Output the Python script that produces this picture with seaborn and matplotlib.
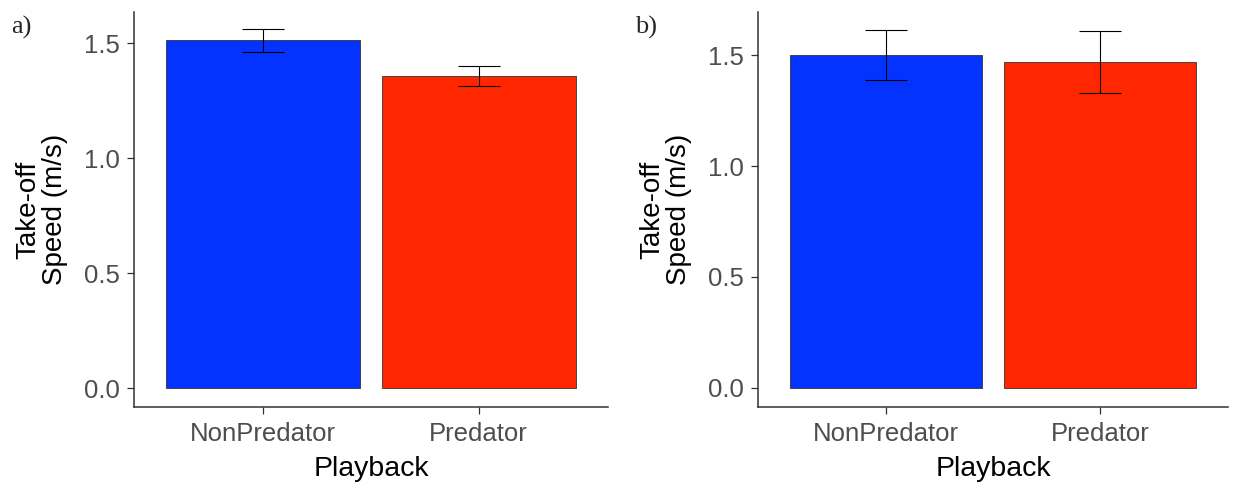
import matplotlib
matplotlib.use("Agg")
import matplotlib.pyplot as plt
import seaborn as sns
import pandas as pd

categories = ["NonPredator", "Predator"]
mean_a = [1.513, 1.357]
se_a = [0.050, 0.042]
mean_b = [1.500, 1.469]
se_b = [0.114, 0.139]
yticks = [0.0, 0.5, 1.0, 1.5]
colors = ["#0433FF", "#FF2600"]

sns.set_theme(style="white")
plt.rcParams["font.family"] = ["Liberation Sans", "DejaVu Sans"]

fig = plt.figure(figsize=(12.35, 4.83), dpi=100)
ax_a = fig.add_axes([134/1235, 76/483, (608-134)/1235, (407-12)/483])
ax_b = fig.add_axes([758/1235, 76/483, (1228-758)/1235, (407-12)/483])

def panel(ax, means, ses, ylim):
    df = pd.DataFrame({"Playback": categories, "Speed": means})
    sns.barplot(data=df, x="Playback", y="Speed", hue="Playback",
                palette=colors, saturation=1, errorbar=None, width=0.9,
                edgecolor="#333333", linewidth=0.6, legend=False, ax=ax)
    ax.errorbar(categories, means, yerr=ses, fmt="none", ecolor="black",
                elinewidth=0.8, capsize=15.4, capthick=0.8)
    ax.set_xlim(-0.6, 1.6)
    ax.set_ylim(*ylim)
    ax.set_yticks(yticks)
    ax.set_yticklabels([f"{t:.1f}" for t in yticks])
    ax.set_xlabel("Playback", fontsize=20.5, color="black", labelpad=7)
    ax.set_ylabel("Take-off\nSpeed (m/s)", fontsize=20, color="black",
                  labelpad=12, linespacing=1.0)
    ax.tick_params(axis="y", labelsize=18.5, labelcolor="#4D4D4D",
                   color="#333333", length=5, width=0.9, left=True, pad=5)
    ax.tick_params(axis="x", labelsize=18.5, labelcolor="#4D4D4D",
                   color="#333333", length=5, width=0.9, bottom=True, pad=6)
    for s in ["top", "right"]:
        ax.spines[s].set_visible(False)
    for s in ["left", "bottom"]:
        ax.spines[s].set_color("#333333")
        ax.spines[s].set_linewidth(1.1)

panel(ax_a, mean_a, se_a, (-0.082, 1.635))
panel(ax_b, mean_b, se_b, (-0.086, 1.694))

for lab, x in [("a)", 11/1235), ("b)", 635/1235)]:
    fig.text(x, 1 - 16/483, lab, fontsize=19,
             family=["Liberation Serif", "DejaVu Serif"], ha="left", va="top")

fig.savefig("out.png", dpi=100, facecolor="white")
